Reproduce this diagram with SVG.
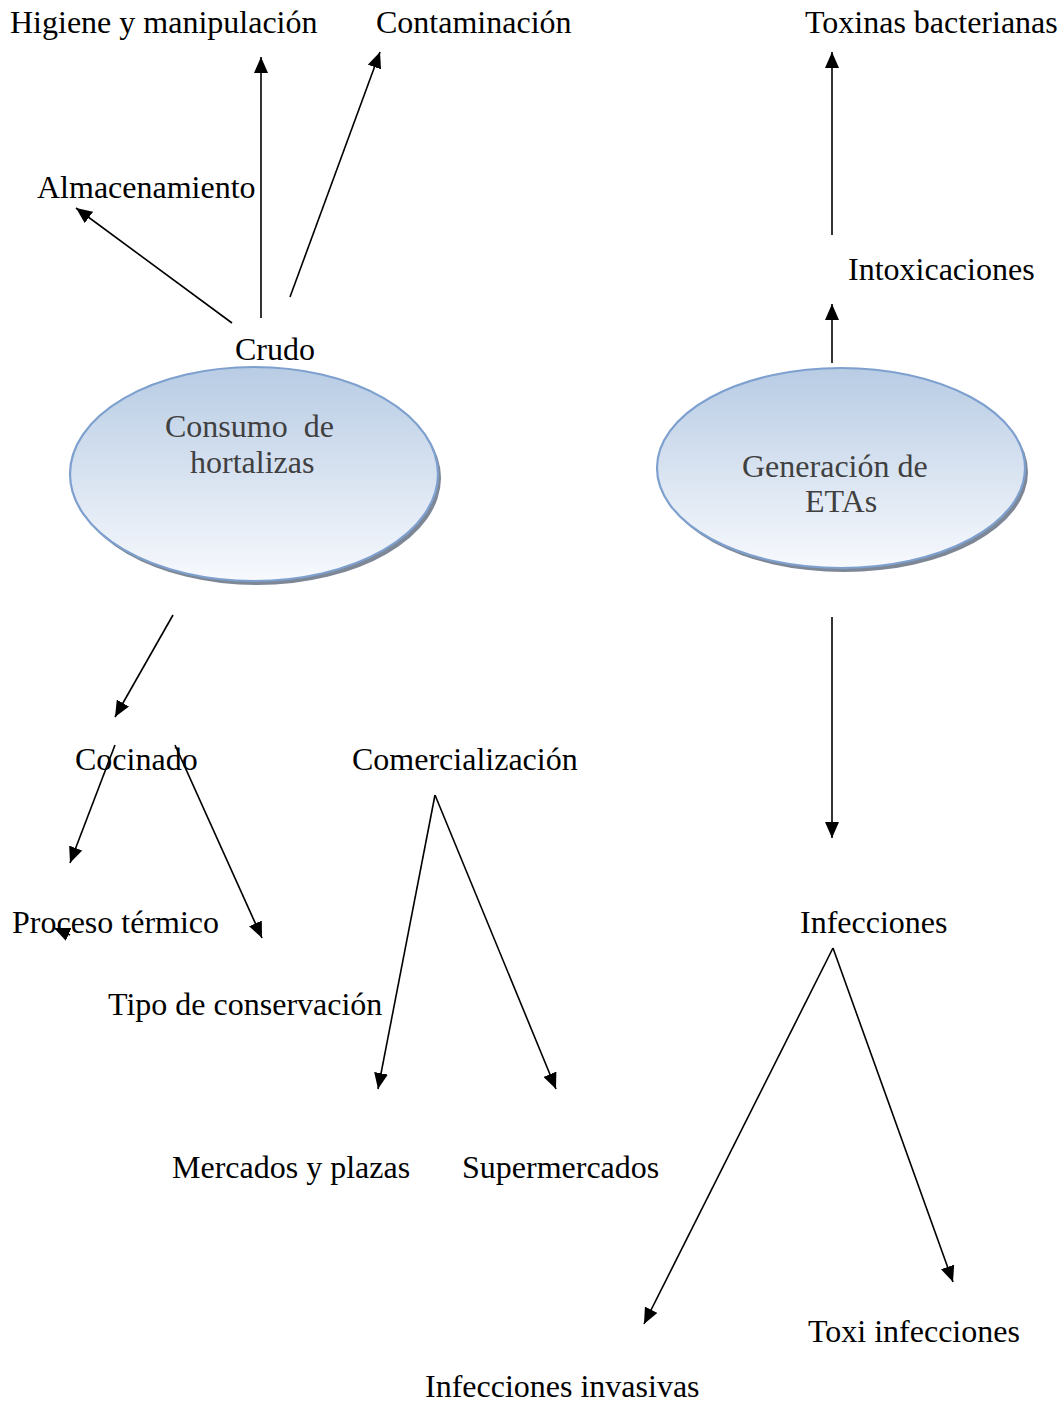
<svg xmlns="http://www.w3.org/2000/svg" width="1064" height="1403" viewBox="0 0 1064 1403">
<style>
text{font-family:"Liberation Serif","Times New Roman",serif;font-size:32px;fill:#000}
.in{fill:#404040}
.c{stroke:#000;stroke-width:1.6;fill:none;marker-end:url(#ah)}
.l{stroke:#000;stroke-width:1.6;fill:none}
.sh{fill:#7d8796}
.el{fill:url(#g);stroke:#7ea0cf;stroke-width:2.2}
</style>
<defs>
<linearGradient id="g" x1="0" y1="0" x2="0" y2="1">
<stop offset="0" stop-color="#b8cce4"/>
<stop offset="1" stop-color="#f7f9fd"/>
</linearGradient>
<marker id="ah" markerUnits="userSpaceOnUse" markerWidth="18" markerHeight="14" refX="16" refY="7" orient="auto">
<path d="M0,0 L16,7 L0,14 Z" fill="#000"/>
</marker>
</defs>
<g id="n-consumo">
<ellipse class="sh" cx="257" cy="478" rx="184" ry="107"/>
<ellipse class="el" cx="254" cy="474" rx="184" ry="107"/>
<text class="in" x="165" y="437" xml:space="preserve">Consumo  de</text>
<text class="in" x="190" y="473">hortalizas</text>
</g>
<g id="n-generacion">
<ellipse class="sh" cx="844" cy="472" rx="184" ry="100"/>
<ellipse class="el" cx="841" cy="468" rx="184" ry="100"/>
<text class="in" x="742" y="477">Generación de</text>
<text class="in" x="805" y="512">ETAs</text>
</g>
<g id="n-higiene"><text x="10" y="33">Higiene y manipulación</text></g>
<g id="n-contaminacion"><text x="376" y="33">Contaminación</text></g>
<g id="n-toxinas"><text x="805" y="33">Toxinas bacterianas</text></g>
<g id="n-almacenamiento"><text x="37" y="198">Almacenamiento</text></g>
<g id="n-intoxicaciones"><text x="848" y="280">Intoxicaciones</text></g>
<g id="n-crudo"><text x="235" y="360">Crudo</text></g>
<g id="n-cocinado"><text x="75" y="770">Cocinado</text></g>
<g id="n-comercializacion"><text x="352" y="770">Comercialización</text></g>
<g id="n-proceso"><text x="12" y="933">Proceso térmico</text></g>
<g id="n-infecciones"><text x="800" y="933">Infecciones</text></g>
<g id="n-tipo"><text x="108" y="1015">Tipo de conservación</text></g>
<g id="n-mercados"><text x="172" y="1178">Mercados y plazas</text></g>
<g id="n-super"><text x="462" y="1178">Supermercados</text></g>
<g id="n-toxi"><text x="808" y="1342">Toxi infecciones</text></g>
<g id="n-invasivas"><text x="425" y="1397">Infecciones invasivas</text></g>
<g id="connectors">
<line class="c" x1="232" y1="323" x2="76" y2="208"/>
<line class="c" x1="261" y1="318" x2="261" y2="57"/>
<line class="c" x1="290" y1="297" x2="380" y2="52"/>
<line class="c" x1="173" y1="615" x2="115" y2="717"/>
<line class="c" x1="115" y1="745" x2="70" y2="863"/>
<line class="c" x1="175" y1="745" x2="262" y2="938"/>
<line class="c" x1="70" y1="935" x2="54" y2="928"/>
<line class="c" x1="435" y1="795" x2="378" y2="1089"/>
<line class="c" x1="435" y1="795" x2="556" y2="1089"/>
<line class="c" x1="832" y1="235" x2="832" y2="52"/>
<line class="c" x1="832" y1="363" x2="832" y2="304"/>
<line class="c" x1="832" y1="617" x2="832" y2="838"/>
<line class="c" x1="833" y1="948" x2="644" y2="1324"/>
<line class="c" x1="833" y1="948" x2="953" y2="1282"/>
</g>
</svg>
